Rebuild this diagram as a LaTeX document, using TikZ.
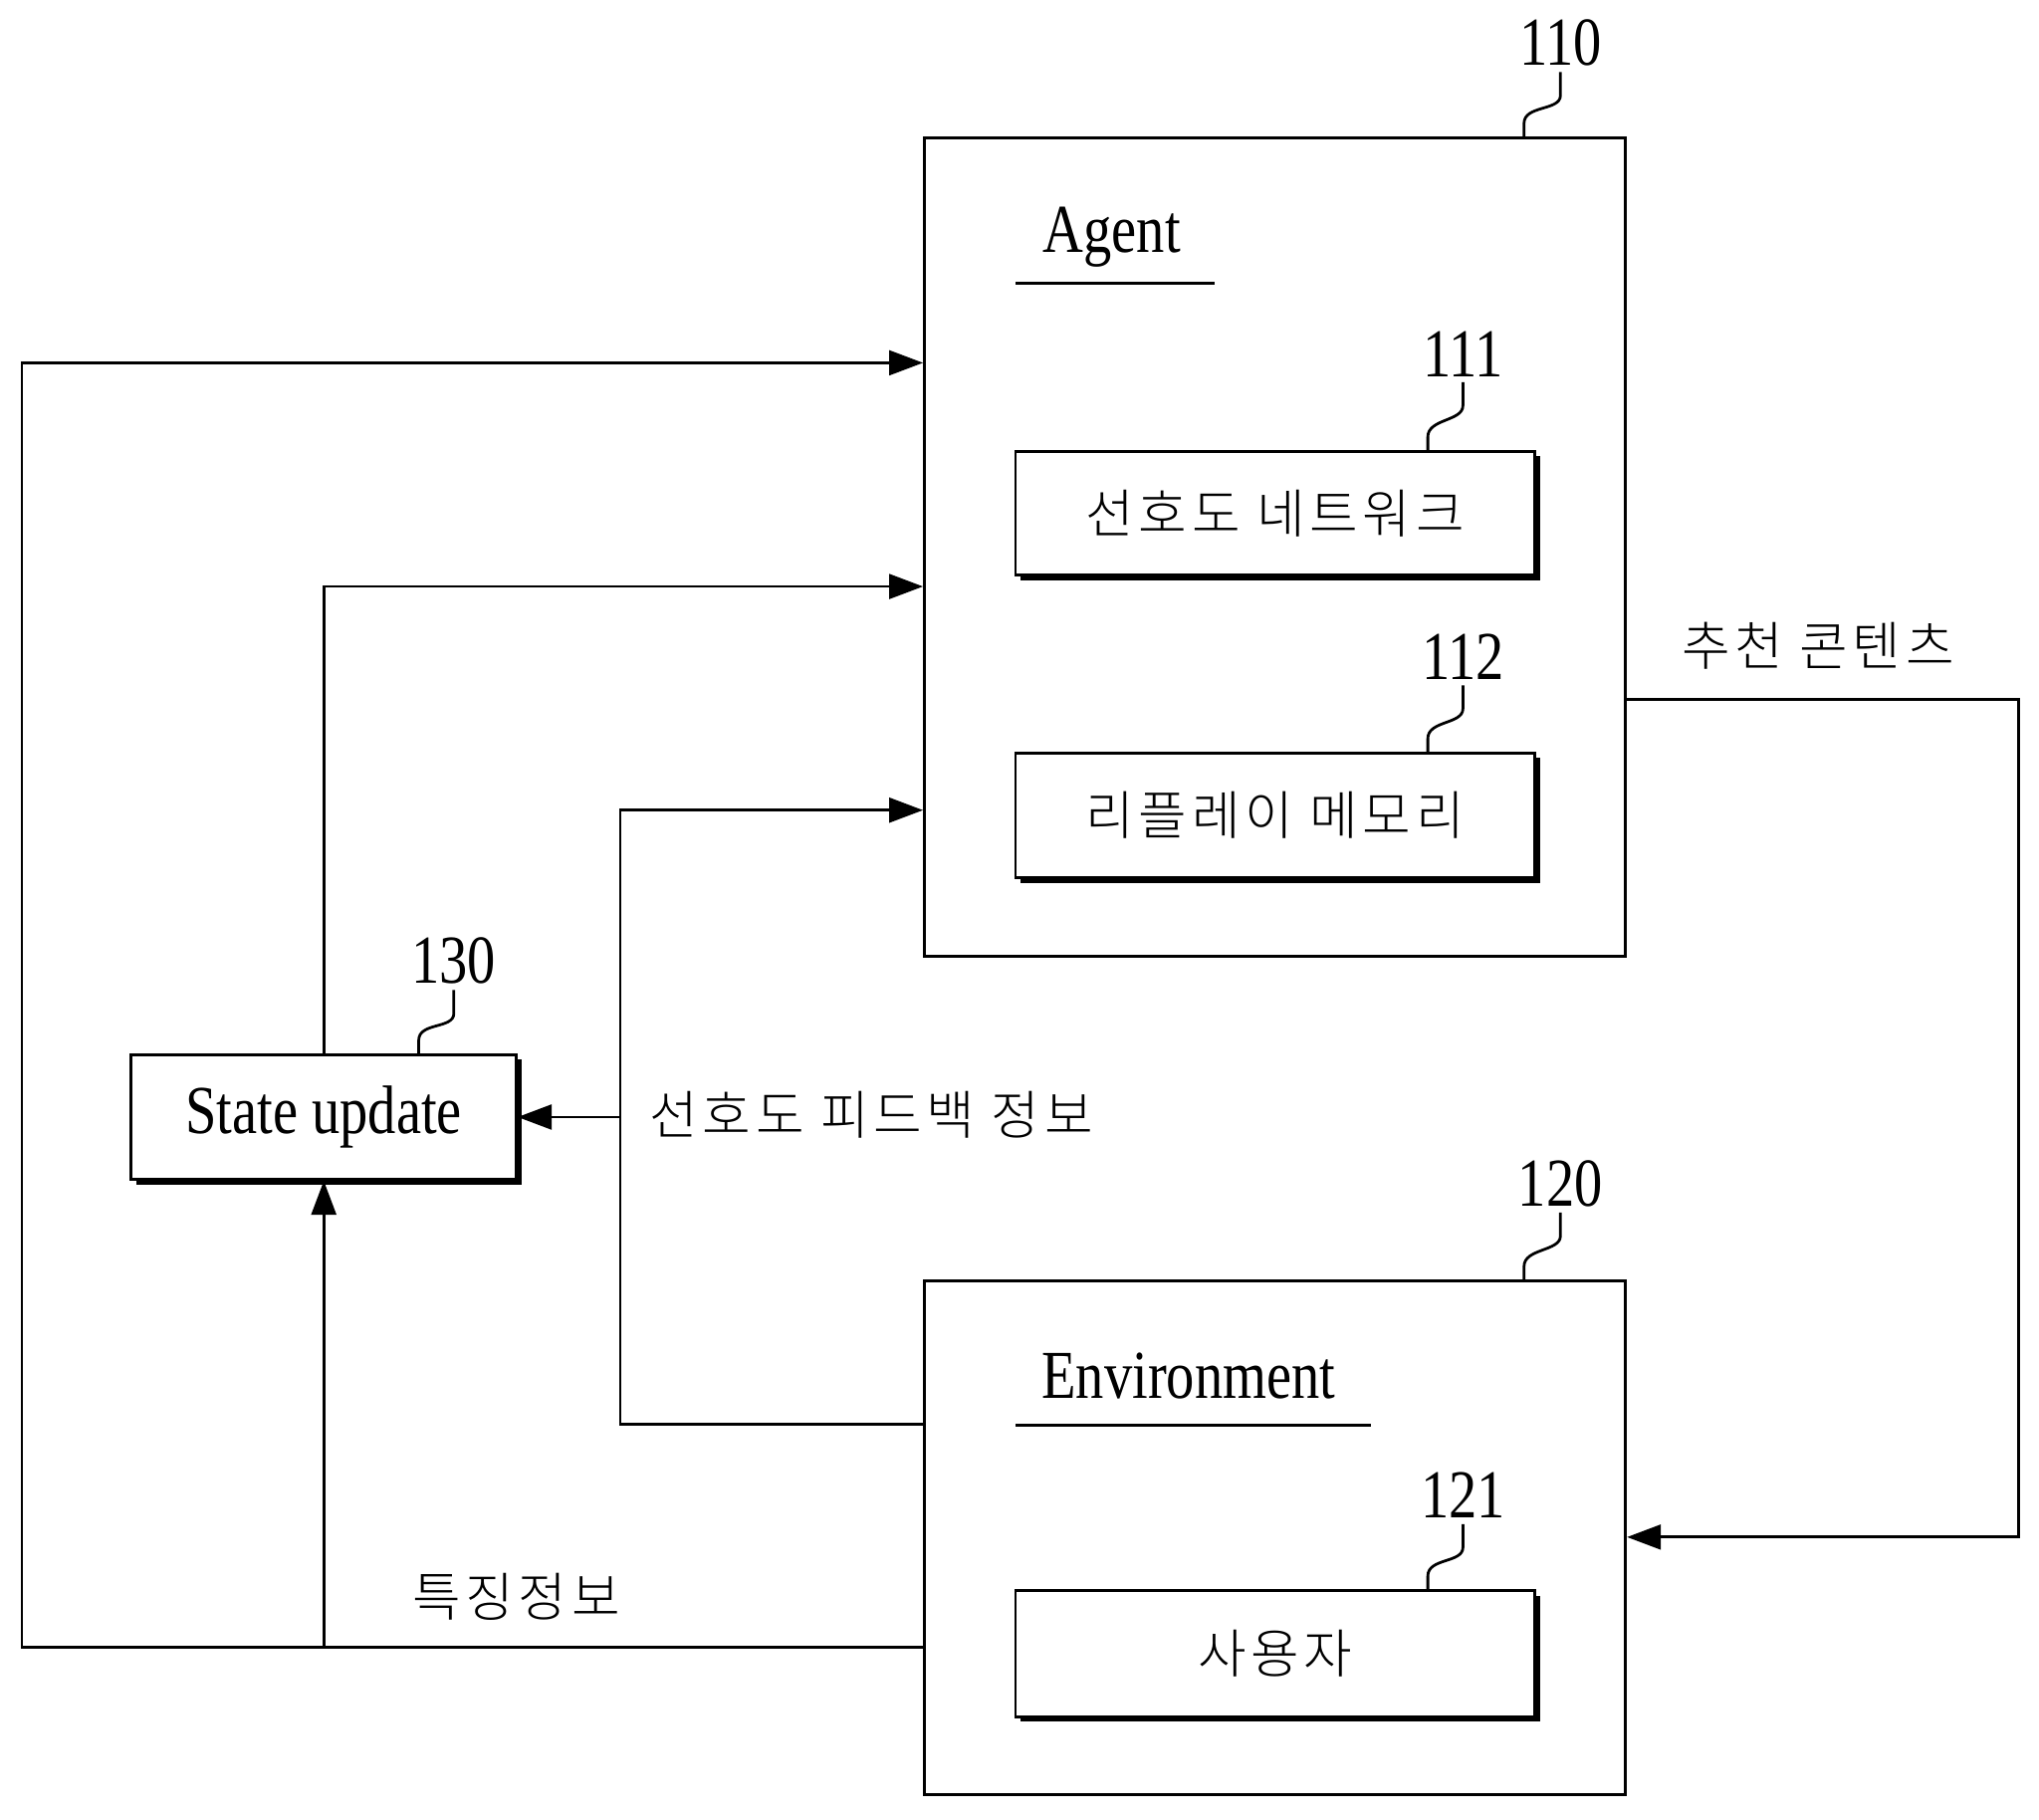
\documentclass[tikz,border=0pt]{standalone}
\usepackage{fontspec}
\setmainfont[FakeStretch=0.82]{Liberation Serif}
\newfontfamily\kr[UprightFont=* Light, LetterSpace=9]{Noto Sans CJK KR}
\usetikzlibrary{arrows.meta,calc,shadows}
\tikzset{
  box/.style={draw, inner sep=0pt},
  sbox/.style={box, fill=white, drop shadow={shadow xshift=0.04cm, shadow yshift=-0.04cm, fill=black, opacity=1}},
  arr/.style={-{Triangle[length=0.26cm,width=0.19cm]}},
  num/.style={inner sep=1pt, font=\fontsize{15}{18}\selectfont},
  kor/.style={font=\kr\fontsize{11.5}{14}\selectfont},
  leader/.style={to path={-- ++(0,-10) .. controls +(0,-14) and ($(\tikztotarget.south)+(0,30)$) .. ($(\tikztotarget.south)+(0,18)$) -- (\tikztotarget.south)}},
}
\begin{document}
\begin{tikzpicture}[x=0.01cm, y=-0.01cm, line width=0.6pt]
\useasboundingbox (0,0) rectangle (1568,1399);
% boxes
\node[box, minimum width=5.39cm, minimum height=6.29cm] (agent) at (980.5,420.5) {};
\node[box, minimum width=5.39cm, minimum height=3.95cm] (env) at (980.5,1182.5) {};
\node[sbox, kor, minimum width=3.99cm, minimum height=0.95cm] (net) at (980.5,394.5) {선호도 네트워크};
\node[sbox, kor, minimum width=3.99cm, minimum height=0.96cm] (replay) at (980.5,627) {리플레이 메모리};
\node[sbox, kor, minimum width=3.99cm, minimum height=0.97cm] (user) at (980.5,1271.5) {사용자};
\node[sbox, num, minimum width=2.96cm, minimum height=0.96cm] (state) at (249,859) {State update};
% titles
\node[num] (agenttitle) at (855,182) {Agent};
\draw (781,218) -- (934,218);
\node[num] (envtitle) at (914,1058) {Environment};
\draw (781,1096) -- (1054,1096);
% reference numbers
\node[num] (n110) at (1200,33) {110};
\node[num] (n111) at (1125,272) {111};
\node[num] (n112) at (1125,505) {112};
\node[num] (n120) at (1200,910) {120};
\node[num] (n121) at (1125,1150) {121};
\node[num] (n130) at (349,739) {130};
\draw[leader] (1172,0 |- agent.north) to (n110);
\draw[leader] (1098,0 |- net.north) to (n111);
\draw[leader] (1098,0 |- replay.north) to (n112);
\draw[leader] (1172,0 |- env.north) to (n120);
\draw[leader] (1098,0 |- user.north) to (n121);
\draw[leader] (322,0 |- state.north) to (n130);
% connectors
\coordinate (fbk) at (477,859);
\draw[arr] (env.west |- 0,1267) -- ++(-693,0) |- (agent.west |- 0,279);
\draw[arr] (state.north) |- (agent.west |- 0,451);
\draw[arr] (env.west |- 0,1095) -| (fbk) |- (agent.west |- 0,623);
\draw[arr] (fbk) -- (state.east);
\draw[arr] (state.south |- 0,1267) -- (state.south);
\draw[arr] (agent.east |- 0,538) -- ++(301,0) |- (env.east |- 0,1182);
% connector labels
\node[kor] (rec) at (1398,497) {추천 콘텐츠};
\node[kor] (fbtxt) at (670,857) {선호도 피드백 정보};
\node[kor] (feat) at (397,1228) {특징정보};
\end{tikzpicture}
\end{document}
